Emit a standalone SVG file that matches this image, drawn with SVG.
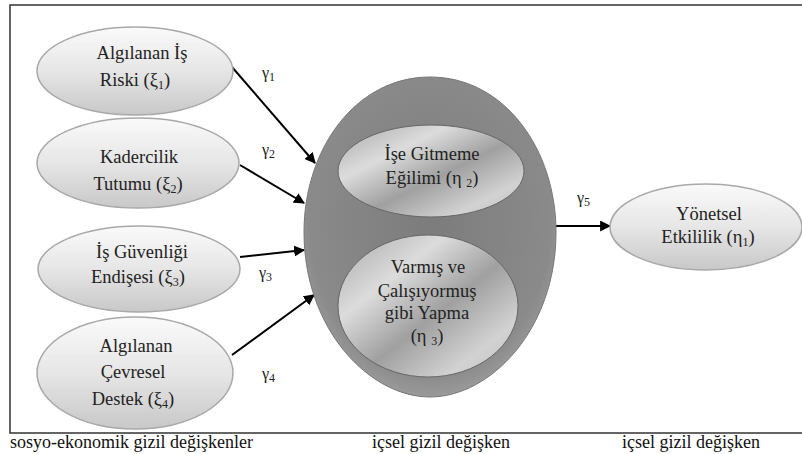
<svg xmlns="http://www.w3.org/2000/svg" width="802" height="454" viewBox="0 0 802 454" font-family="Times New Roman, Liberation Serif, serif">
<defs>
<linearGradient id="gSmall" x1="0" y1="0" x2="0" y2="1">
<stop offset="0" stop-color="#fafafa"/>
<stop offset="0.5" stop-color="#e6e6e6"/>
<stop offset="1" stop-color="#c8c8c8"/>
</linearGradient>
<radialGradient id="gBig" cx="0.5" cy="0.45" r="0.6">
<stop offset="0" stop-color="#7c7c7c"/>
<stop offset="0.8" stop-color="#8a8a8a"/>
<stop offset="1" stop-color="#a5a5a5"/>
</radialGradient>
<linearGradient id="gInner" x1="0" y1="0" x2="1" y2="1">
<stop offset="0" stop-color="#a8a8a8"/>
<stop offset="0.3" stop-color="#dcdcdc"/>
<stop offset="0.55" stop-color="#a0a0a0"/>
<stop offset="0.8" stop-color="#d2d2d2"/>
<stop offset="1" stop-color="#c0c0c0"/>
</linearGradient>
<marker id="ah2" viewBox="0 0 10 10" refX="9" refY="5" markerWidth="11" markerHeight="11" markerUnits="userSpaceOnUse" orient="auto">
<path d="M0,0 L10,5 L0,10 z" fill="#000"/>
</marker>
</defs>
<rect width="802" height="454" fill="#fff"/>
<path d="M803,5 L10,5 L10,433 L803,433" fill="none" stroke="#333" stroke-width="1.5"/>

<g id="connectors" stroke="#000" stroke-width="2" fill="none" marker-end="url(#ah2)">
<line x1="232" y1="67" x2="315" y2="163"/>
<line x1="240" y1="165" x2="304" y2="203"/>
<line x1="240" y1="257" x2="304" y2="250"/>
<line x1="232" y1="355" x2="314" y2="295"/>
<line x1="555" y1="226" x2="610" y2="226"/>
</g>
<g id="gamma-labels" fill="#222" font-family="Times New Roman, serif" font-size="16">
<text x="262" y="78">γ<tspan font-size="12" dy="3">1</tspan></text>
<text x="262" y="155">γ<tspan font-size="12" dy="3">2</tspan></text>
<text x="259" y="278">γ<tspan font-size="12" dy="3">3</tspan></text>
<text x="262" y="379">γ<tspan font-size="12" dy="3">4</tspan></text>
<text x="577" y="203">γ<tspan font-size="12" dy="3">5</tspan></text>
</g>

<g id="xi1" fill="#222" text-anchor="middle" font-family="Times New Roman, serif" font-size="18.5">
<ellipse cx="135" cy="71" rx="98" ry="44" fill="url(#gSmall)" stroke="#a8a8a8" stroke-width="1.5"/>
<text x="142" y="59">Algılanan İş</text>
<text x="135" y="86">Riski (ξ<tspan font-size="12" dy="3">1</tspan><tspan dy="-3">)</tspan></text>
</g>
<g id="xi2" fill="#222" text-anchor="middle" font-family="Times New Roman, serif" font-size="18.5">
<ellipse cx="138" cy="163" rx="101" ry="45" fill="url(#gSmall)" stroke="#a8a8a8" stroke-width="1.5"/>
<text x="139" y="163">Kadercilik</text>
<text x="138" y="190">Tutumu (ξ<tspan font-size="12" dy="3">2</tspan><tspan dy="-3">)</tspan></text>
</g>
<g id="xi3" fill="#222" text-anchor="middle" font-family="Times New Roman, serif" font-size="18.5">
<ellipse cx="139" cy="269" rx="101" ry="43" fill="url(#gSmall)" stroke="#a8a8a8" stroke-width="1.5"/>
<text x="142" y="258">İş Güvenliği</text>
<text x="138" y="283">Endişesi (ξ<tspan font-size="12" dy="3">3</tspan><tspan dy="-3">)</tspan></text>
</g>
<g id="xi4" fill="#222" text-anchor="middle" font-family="Times New Roman, serif" font-size="18.5">
<ellipse cx="135" cy="373" rx="98" ry="56" fill="url(#gSmall)" stroke="#a8a8a8" stroke-width="1.5"/>
<text x="136" y="352">Algılanan</text>
<text x="133" y="378">Çevresel</text>
<text x="133" y="405">Destek (ξ<tspan font-size="12" dy="3">4</tspan><tspan dy="-3">)</tspan></text>
</g>

<g id="endo" fill="#222" text-anchor="middle" font-family="Times New Roman, serif" font-size="18.5">
<path d="M430,77 C505,77 556,150 556,232 C556,330 490,397 430,397 C370,397 304,330 304,232 C304,150 355,77 430,77 Z" fill="url(#gBig)" stroke="#777" stroke-width="1"/>
<g id="eta2">
<ellipse cx="431" cy="171" rx="93" ry="46" fill="url(#gInner)" stroke="#666" stroke-width="1"/>
<text x="432" y="160">İşe Gitmeme</text>
<text x="432" y="184">Eğilimi (η <tspan font-size="12" dy="3">2</tspan><tspan dy="-3">)</tspan></text>
</g>
<g id="eta3">
<ellipse cx="428" cy="306" rx="90" ry="71" fill="url(#gInner)" stroke="#666" stroke-width="1"/>
<text x="428" y="273">Varmış ve</text>
<text x="427" y="297">Çalışıyormuş</text>
<text x="427" y="319">gibi Yapma</text>
<text x="427" y="342">(η <tspan font-size="12" dy="3">3</tspan><tspan dy="-3">)</tspan></text>
</g>
</g>

<g id="eta1" fill="#222" text-anchor="middle" font-family="Times New Roman, serif" font-size="18.5">
<ellipse cx="706" cy="227" rx="96" ry="43" fill="url(#gSmall)" stroke="#a8a8a8" stroke-width="1.5"/>
<text x="709" y="220">Yönetsel</text>
<text x="708" y="243">Etkililik (η<tspan font-size="12" dy="3">1</tspan><tspan dy="-3">)</tspan></text>
</g>

<g id="captions" fill="#111" font-family="Times New Roman, serif" font-size="18">
<text x="10" y="448">sosyo-ekonomik gizil değişkenler</text>
<text x="372" y="448">içsel gizil değişken</text>
<text x="622" y="448">içsel gizil değişken</text>
</g>
</svg>
